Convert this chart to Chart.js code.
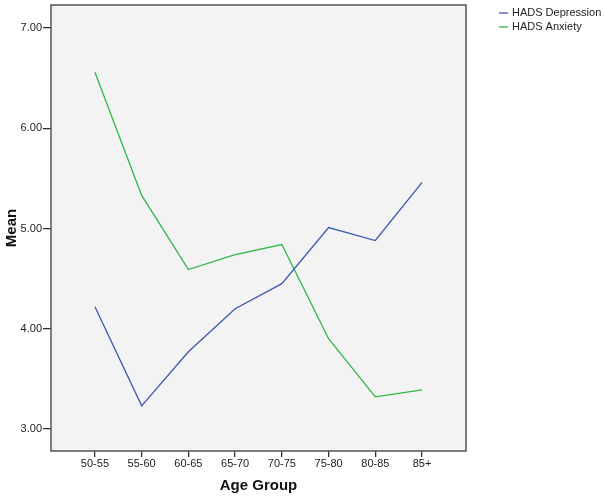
<!DOCTYPE html>
<html>
<head>
<meta charset="UTF-8"/>
<title>HADS by Age Group</title>
<script src="https://cdn.jsdelivr.net/npm/chart.js@4"></script>
<style>
    html, body { margin: 0; padding: 0; background: #fff; }
    #wrap { width: 605px; height: 499px; }
</style>
</head>
<body>
<div id="wrap">
    <canvas id="lineChart" width="605" height="499"></canvas>
</div>
<script>
    // categories (age groups)
    var ageGroups = ["50-55", "55-60", "60-65", "65-70", "70-75", "75-80", "80-85", "85+"];
    // series values (mean scores)
    var depression = [4.22, 3.23, 3.77, 4.20, 4.45, 5.01, 4.88, 5.46];
    var anxiety = [6.56, 5.33, 4.59, 4.74, 4.84, 3.90, 3.32, 3.39];
    // y tick labels
    var yTicks = [3, 4, 5, 6, 7];
    var seriesNames = ["HADS Depression", "HADS Anxiety"];
    var seriesColors = ["#3E58AC", "#2EB848"];

    function toPoints(arr) {
        return arr.map(function (v, i) { return { x: i, y: v }; });
    }

    // plot background, frame, legend and axis titles
    var frame = {
        id: 'frame',
        beforeDatasetsDraw: function (chart) {
            var a = chart.chartArea, c = chart.ctx;
            c.save();
            c.fillStyle = '#f3f3f3';
            c.fillRect(a.left, a.top, a.right - a.left, a.bottom - a.top);
            c.restore();
        },
        afterDraw: function (chart) {
            var a = chart.chartArea, c = chart.ctx;
            c.save();
            c.strokeStyle = '#555';
            c.lineWidth = 1.5;
            c.strokeRect(a.left, a.top, a.right - a.left, a.bottom - a.top);

            // legend
            c.font = '11px "Liberation Sans", Arial, sans-serif';
            c.textBaseline = 'middle';
            c.fillStyle = '#222';
            for (var i = 0; i < seriesNames.length; i++) {
                var y = 13 + i * 14;
                c.strokeStyle = seriesColors[i];
                c.lineWidth = 1.3;
                c.beginPath();
                c.moveTo(499, y);
                c.lineTo(508, y);
                c.stroke();
                c.fillText(seriesNames[i], 512, y);
            }

            // axis titles
            c.font = 'bold 15px "Liberation Sans", Arial, sans-serif';
            c.fillStyle = '#111';
            c.textAlign = 'center';
            c.fillText('Age Group', (a.left + a.right) / 2, 486);
            c.translate(12, (a.top + a.bottom) / 2);
            c.rotate(-Math.PI / 2);
            c.fillText('Mean', 0, 0);
            c.restore();
        }
    };

    var ctx = document.getElementById('lineChart').getContext('2d');
    var myChart = new Chart(ctx, {
        type: 'line',
        data: {
            datasets: [{
                label: seriesNames[0],
                data: toPoints(depression),
                borderColor: seriesColors[0],
                borderWidth: 1.3,
                pointRadius: 0,
                fill: false,
                tension: 0
            }, {
                label: seriesNames[1],
                data: toPoints(anxiety),
                borderColor: seriesColors[1],
                borderWidth: 1.3,
                pointRadius: 0,
                fill: false,
                tension: 0
            }]
        },
        options: {
            responsive: false,
            animation: false,
            layout: { padding: { top: 5, right: 139, left: 0, bottom: 0 } },
            plugins: {
                legend: { display: false },
                tooltip: { enabled: false }
            },
            scales: {
                x: {
                    type: 'linear',
                    min: -0.94,
                    max: 7.94,
                    afterBuildTicks: function (scale) {
                        scale.ticks = ageGroups.map(function (g, i) { return { value: i }; });
                    },
                    afterFit: function (scale) { scale.height = 48; },
                    grid: { drawOnChartArea: false, tickLength: 6, color: '#333', lineWidth: 1.3 },
                    border: { display: false },
                    ticks: {
                        autoSkip: false,
                        maxRotation: 0,
                        padding: 0,
                        color: '#222',
                        font: { family: '"Liberation Sans", Arial, sans-serif', size: 11 },
                        callback: function (v) { return ageGroups[v]; }
                    }
                },
                y: {
                    min: 2.78,
                    max: 7.23,
                    afterBuildTicks: function (scale) {
                        scale.ticks = yTicks.map(function (v) { return { value: v }; });
                    },
                    afterFit: function (scale) {
                        scale.width = 51;
                        scale.paddingTop = 0;
                        scale.paddingBottom = 0;
                    },
                    grid: { drawOnChartArea: false, tickLength: 8, color: '#333', lineWidth: 1.3 },
                    border: { display: false },
                    ticks: {
                        padding: 1,
                        color: '#222',
                        font: { family: '"Liberation Sans", Arial, sans-serif', size: 11 },
                        callback: function (v) { return v.toFixed(2); }
                    }
                }
            }
        },
        plugins: [frame]
    });
</script>
</body>
</html>
